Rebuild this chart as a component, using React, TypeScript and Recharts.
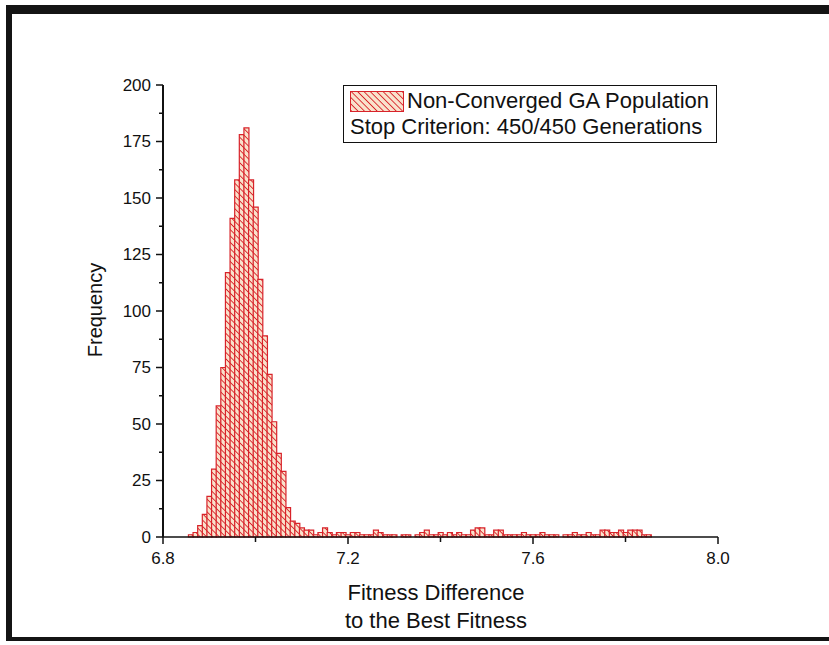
import React from 'react';
import { BarChart, Bar, XAxis, YAxis, Legend, Label } from 'recharts';

// histogram bins: first bin centre and bin width
const binStart = 6.86;
const binWidth = 0.01;

// counts per bin
const frequency = [
  1, 2, 5, 10, 18, 30, 58, 75, 117, 141,
  158, 178, 181, 158, 146, 114, 89, 72, 51, 37,
  29, 13, 7, 6, 4, 3, 3, 1, 2, 4,
  2, 1, 2, 2, 1, 2, 2, 1, 1, 1,
  3, 2, 1, 1, 1, 0, 1, 1, 0, 1,
  2, 3, 1, 1, 2, 1, 2, 1, 2, 1,
  1, 3, 4, 4, 1, 1, 3, 3, 1, 1,
  1, 1, 2, 1, 1, 1, 2, 1, 1, 1,
  0, 1, 1, 2, 1, 1, 2, 1, 1, 3,
  3, 2, 2, 3, 2, 3, 3, 3, 1, 1,
];

const xMajorTicks = [6.8, 7.2, 7.6, 8.0];
const xMinorTicks = [7.0, 7.4, 7.8];
const yMajorTicks = [0, 25, 50, 75, 100, 125, 150, 175, 200];
const yMinorTicks = [12.5, 37.5, 62.5, 87.5, 112.5, 137.5, 162.5, 187.5];

const seriesName = 'Non-Converged GA Population';
const legendNote = 'Stop Criterion: 450/450 Generations';

const data = frequency.map((count, i) => ({
  bin: Number((binStart + i * binWidth).toFixed(2)),
  count,
}));

const RED = '#d8232a';
const FONT = '"Liberation Sans", Arial, sans-serif';

const YTick = (props: any) => {
  const { x, y, payload } = props;
  const major = yMajorTicks.includes(payload.value);
  return (
    <g>
      <line x1={x} x2={x - (major ? 7 : 4)} y1={y} y2={y} stroke="#111" strokeWidth={1.5} />
      {major && (
        <text x={x - 12} y={y} textAnchor="end" dominantBaseline="central" fontSize={17} fontFamily={FONT} fill="#111">
          {payload.value}
        </text>
      )}
    </g>
  );
};

const XTick = (props: any) => {
  const { x, y, payload } = props;
  const major = xMajorTicks.includes(payload.value);
  return (
    <g>
      <line x1={x} x2={x} y1={y} y2={y + (major ? 7 : 5)} stroke="#111" strokeWidth={1.5} />
      {major && (
        <text x={x} y={y + 21} textAnchor="middle" dominantBaseline="central" fontSize={17} fontFamily={FONT} fill="#111">
          {payload.value.toFixed(1)}
        </text>
      )}
    </g>
  );
};

const LegendBox = () => (
  <div
    style={{
      border: '1px solid #111',
      background: '#fff',
      width: 374,
      height: 58,
      boxSizing: 'border-box',
      fontFamily: FONT,
      fontSize: 22,
      color: '#111',
      padding: '2px 0 0 6px',
      lineHeight: '26px',
      whiteSpace: 'nowrap',
    }}
  >
    <div style={{ display: 'flex', alignItems: 'center' }}>
      <svg width={54} height={21} style={{ marginRight: 3 }}>
        <rect x={0.5} y={0.5} width={53} height={20} fill="url(#hatch)" stroke={RED} strokeWidth={1} />
      </svg>
      <span>{seriesName}</span>
    </div>
    <div style={{ paddingLeft: 0 }}>{legendNote}</div>
  </div>
);

export default function App() {
  return (
    <div style={{ position: 'absolute', left: 0, top: 0, width: 829, height: 645, background: '#fff', overflow: 'hidden' }}>
      <div
        style={{
          position: 'absolute',
          left: 6,
          top: 5,
          width: 840,
          height: 636,
          borderTop: '9px solid #141414',
          borderLeft: '6px solid #141414',
          borderBottom: '4px solid #141414',
          boxSizing: 'border-box',
        }}
      />
      <div style={{ position: 'absolute', left: 0, top: 0 }}>
        <BarChart
          width={829}
          height={645}
          data={data}
          margin={{ top: 85, right: 111, left: 103, bottom: 78 }}
          barCategoryGap={0}
          barGap={0}
        >
          <defs>
            <pattern id="hatch" width={4.5} height={4.5} patternUnits="userSpaceOnUse" patternTransform="rotate(-45)">
              <rect width={4.5} height={4.5} fill="#f9e2cc" />
              <line x1={0} y1={0} x2={0} y2={4.5} stroke={RED} strokeWidth={1.8} />
            </pattern>
          </defs>
          <XAxis
            dataKey="bin"
            type="number"
            domain={[6.8, 8.0]}
            ticks={[...xMajorTicks, ...xMinorTicks].sort()}
            interval={0}
            tickSize={0}
            tickMargin={0}
            tick={<XTick />}
            axisLine={{ stroke: '#111', strokeWidth: 1.5 }}
            tickLine={false}
            height={30}
          >
            <Label
              content={() => (
                <text textAnchor="middle" fontSize={22} fontFamily={FONT} fill="#111">
                  <tspan x={436} y={600}>Fitness Difference</tspan>
                  <tspan x={436} y={628}>to the Best Fitness</tspan>
                </text>
              )}
            />
          </XAxis>
          <YAxis
            type="number"
            domain={[0, 200]}
            ticks={[...yMajorTicks, ...yMinorTicks].sort((a, b) => a - b)}
            interval={0}
            tickSize={0}
            tickMargin={0}
            tick={<YTick />}
            axisLine={{ stroke: '#111', strokeWidth: 2 }}
            tickLine={false}
            width={60}
          >
            <Label
              content={() => (
                <text
                  x={102}
                  y={310}
                  transform="rotate(-90 102 310)"
                  textAnchor="middle"
                  fontSize={20}
                  fontFamily={FONT}
                  fill="#111"
                >
                  Frequency
                </text>
              )}
            />
          </YAxis>
          <Legend
            layout="horizontal"
            verticalAlign="middle"
            align="center"
            content={<LegendBox />}
            wrapperStyle={{ position: 'absolute', left: 343, top: 85, width: 374 }}
          />
          <Bar dataKey="count" name={seriesName} fill="url(#hatch)" stroke={RED} strokeWidth={1.2} isAnimationActive={false} />
        </BarChart>
      </div>
    </div>
  );
}
